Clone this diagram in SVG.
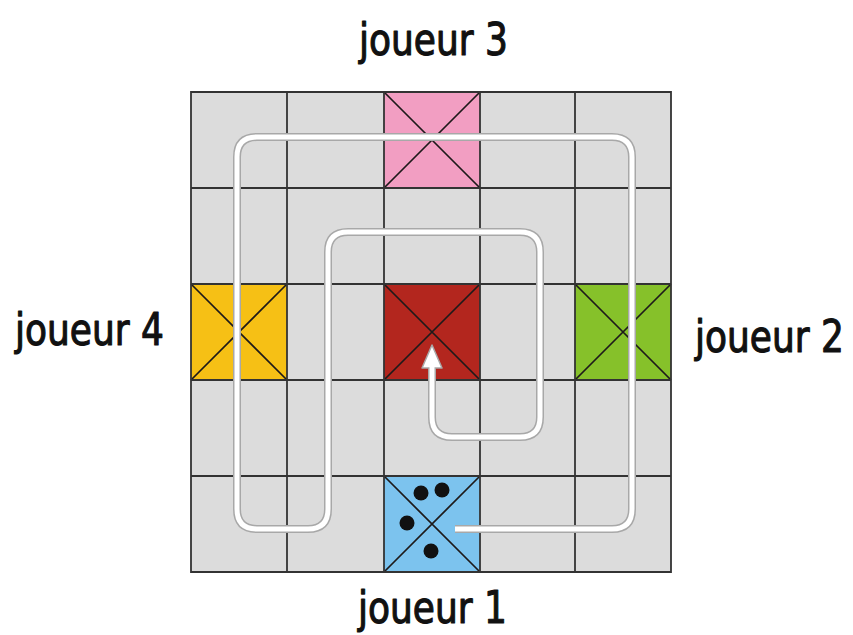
<svg xmlns="http://www.w3.org/2000/svg" width="853" height="635" viewBox="0 0 853 635">
<defs>
<style>
.cell{fill:#dcdcdc}
.grid{stroke:#333333;stroke-width:1.8;fill:none}
.diag{stroke:#1e1a1a;stroke-width:1.7;fill:none}
.lbl{font-family:"DejaVu Sans Condensed","DejaVu Sans",sans-serif;font-size:40px;fill:#111;stroke:#111;stroke-width:1;stroke-linejoin:round}
.pathS{fill:none;stroke:#a8a8a8;stroke-width:8;stroke-linejoin:round}
.pathW{fill:none;stroke:#ffffff;stroke-width:5;stroke-linejoin:round}
.dot{fill:#111}
</style>
</defs>
<rect width="853" height="635" fill="#ffffff"/>
<g id="board">
<rect class="cell" x="191" y="92" width="480" height="480"/>
</g>
<g id="cell-joueur3">
<rect x="384" y="92" width="96" height="96" fill="#f29ec2"/>
<path class="diag" d="M384 92 L480 188 M480 92 L384 188"/>
</g>
<g id="cell-centre">
<rect x="384" y="284" width="96" height="96" fill="#b3261e"/>
<path class="diag" d="M384 284 L480 380 M480 284 L384 380"/>
</g>
<g id="cell-joueur4">
<rect x="191" y="284" width="96" height="96" fill="#f6c015"/>
<path class="diag" d="M191 284 L287 380 M287 284 L191 380"/>
</g>
<g id="cell-joueur2">
<rect x="575" y="284" width="96" height="96" fill="#86c12a"/>
<path class="diag" d="M575 284 L671 380 M671 284 L575 380"/>
</g>
<g id="cell-joueur1">
<rect x="384" y="476" width="96" height="96" fill="#7cc3ee"/>
<path class="diag" d="M384 476 L480 572 M480 476 L384 572"/>
<circle class="dot" cx="421" cy="493" r="7.5"/>
<circle class="dot" cx="442" cy="490" r="7.5"/>
<circle class="dot" cx="407" cy="523" r="7.5"/>
<circle class="dot" cx="431" cy="551" r="7.5"/>
</g>
<g id="gridlines">
<path class="grid" d="M191 92 H671 V572 H191 Z M287 92 V572 M384 92 V572 M480 92 V572 M575 92 V572 M191 188 H671 M191 284 H671 M191 380 H671 M191 476 H671"/>
</g>
<g id="connectors">
<path class="pathS" d="M455 529 H612 Q632 529 632 509 V157 Q632 137 612 137 H257 Q237 137 237 157 V509 Q237 529 257 529 H308 Q328 529 328 509 V252 Q328 232 348 232 H520 Q540 232 540 252 V417 Q540 437 520 437 H452 Q432 437 432 417 V366"/>
<path d="M432 345 L442 368 L422 368 Z" fill="#ffffff" stroke="#a8a8a8" stroke-width="1.5" stroke-linejoin="round"/>
<path class="pathW" d="M455 529 H612 Q632 529 632 509 V157 Q632 137 612 137 H257 Q237 137 237 157 V509 Q237 529 257 529 H308 Q328 529 328 509 V252 Q328 232 348 232 H520 Q540 232 540 252 V417 Q540 437 520 437 H452 Q432 437 432 417 V364"/>
</g>
<g id="labels">
<text class="lbl" transform="translate(359,55) scale(1,1.12)">joueur 3</text>
<text class="lbl" transform="translate(15,345) scale(1,1.12)">joueur 4</text>
<text class="lbl" transform="translate(695,352) scale(1,1.12)">joueur 2</text>
<text class="lbl" transform="translate(358,623) scale(1,1.12)">joueur 1</text>
</g>
</svg>
